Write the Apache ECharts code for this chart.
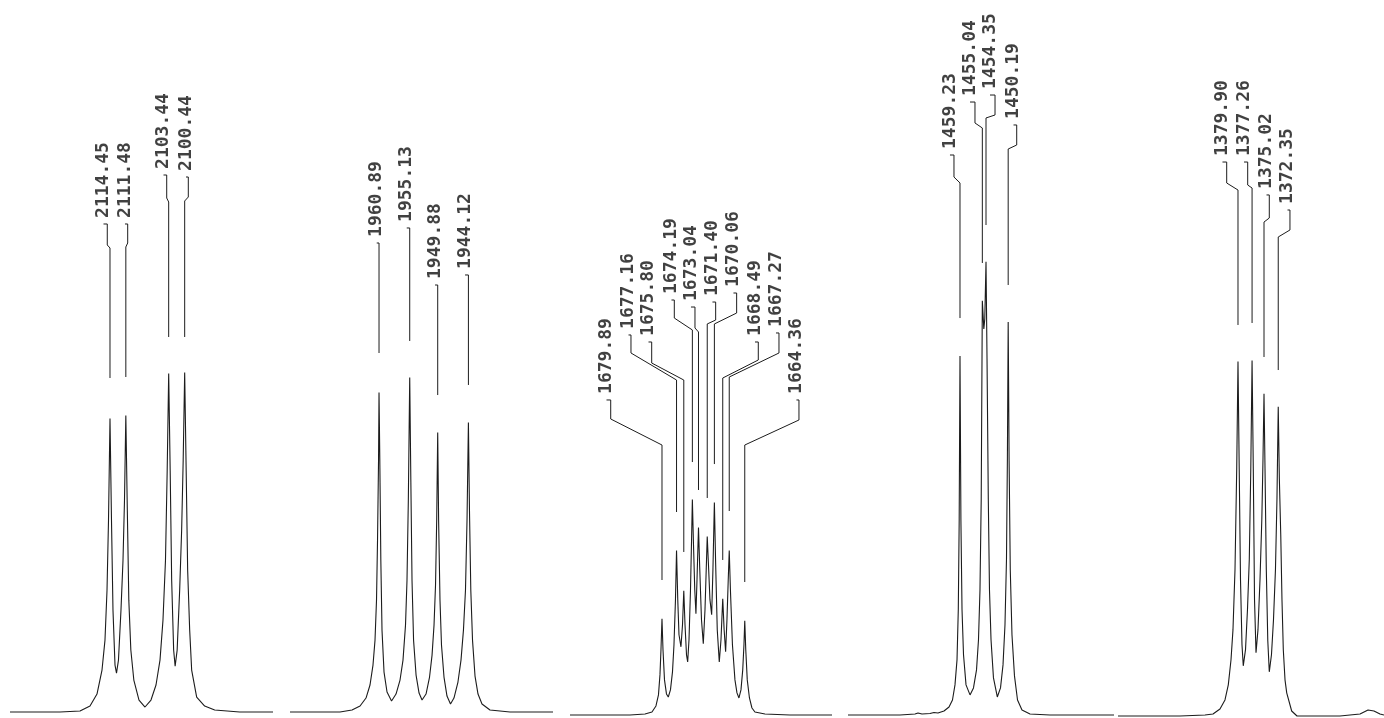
<!DOCTYPE html>
<html>
<head>
<meta charset="utf-8">
<script src="https://cdn.jsdelivr.net/npm/echarts@6/dist/echarts.min.js"></script>
<style>
html,body{margin:0;padding:0;background:#fff;}
#chart{width:1384px;height:718px;}
</style>
</head>
<body>
<div id="chart"></div>
<script>
// ---- Data (frequency in Hz, intensity in arbitrary units 0-100) ----
const seg1Range = [2083.87, 2133.21];
const seg2Range = [1928.25, 1977.59];
const seg3Range = [1647.99, 1697.15];
const seg4Range = [1430.34, 1480.24];
const seg5Range = [1352.51, 1402.41];

const seg1Peaks = [2114.45, 2111.48, 2103.44, 2100.44];
const seg2Peaks = [1960.89, 1955.13, 1949.88, 1944.12];
const seg3Peaks = [1679.89, 1677.16, 1675.80, 1674.19, 1673.04, 1671.40, 1670.06, 1668.49, 1667.27, 1664.36];
const seg4Peaks = [1459.23, 1455.04, 1454.35, 1450.19];
const seg5Peaks = [1379.90, 1377.26, 1375.02, 1372.35];

const seg1Trace = [[2133.21,0],[2123.83,0],[2120.08,0.14],[2118.20,0.84],[2116.89,2.52],[2115.95,5.89],[2115.39,10.10],[2115.01,17.11],[2114.73,26.93],[2114.45,41.23],[2114.17,26.93],[2113.89,14.31],[2113.51,6.59],[2113.23,5.47],[2112.86,7.29],[2112.39,14.31],[2112.01,21.32],[2111.73,29.73],[2111.48,41.65],[2111.20,28.33],[2110.92,15.71],[2110.54,8.70],[2109.98,4.49],[2109.01,1.68],[2107.88,0.70],[2106.76,1.68],[2105.82,3.79],[2105.07,7.29],[2104.51,12.90],[2104.04,21.32],[2103.72,33.94],[2103.44,47.55],[2103.16,33.94],[2102.88,18.51],[2102.51,8.70],[2102.23,6.45],[2101.85,8.70],[2101.38,17.11],[2101.01,25.53],[2100.72,35.34],[2100.44,47.69],[2100.16,33.94],[2099.88,19.92],[2099.50,11.50],[2099.13,5.89],[2098.19,2.10],[2096.69,0.84],[2094.81,0.28],[2090.12,0],[2083.87,0]];

const seg2Trace = [[1977.59,0],[1968.21,0],[1965.96,0.28],[1964.45,0.84],[1963.33,1.96],[1962.58,3.79],[1962.02,6.59],[1961.64,10.10],[1961.36,15.71],[1961.17,24.12],[1960.98,35.34],[1960.89,44.88],[1960.74,35.34],[1960.55,21.32],[1960.33,11.50],[1959.95,5.61],[1959.39,2.81],[1958.54,1.54],[1957.70,2.52],[1956.95,4.49],[1956.39,7.29],[1955.92,12.20],[1955.64,18.51],[1955.39,29.73],[1955.13,46.98],[1954.92,32.54],[1954.70,18.51],[1954.41,10.10],[1953.94,5.19],[1953.38,2.66],[1952.82,1.68],[1952.07,2.52],[1951.41,4.91],[1950.94,7.99],[1950.57,12.20],[1950.29,17.81],[1950.07,26.93],[1949.88,39.27],[1949.71,26.93],[1949.45,15.71],[1949.17,9.40],[1948.70,4.91],[1948.14,2.24],[1947.48,1.12],[1946.83,1.96],[1946.08,4.21],[1945.51,7.29],[1945.05,11.50],[1944.67,17.11],[1944.38,26.93],[1944.12,40.67],[1943.92,28.33],[1943.67,17.11],[1943.35,10.10],[1942.88,5.05],[1942.32,2.52],[1941.57,1.12],[1940.07,0.28],[1936.32,0],[1928.25,0]];

const seg3Trace = [[1697.15,0],[1685.89,0],[1683.08,0.14],[1681.77,0.42],[1681.02,1.26],[1680.55,2.81],[1680.27,5.61],[1680.08,9.12],[1679.89,13.46],[1679.70,9.12],[1679.42,4.91],[1679.05,2.95],[1678.71,2.52],[1678.30,3.51],[1677.92,6.03],[1677.64,9.82],[1677.36,16.13],[1677.16,23.00],[1676.93,16.13],[1676.70,11.22],[1676.33,9.54],[1676.04,12.62],[1675.80,17.39],[1675.57,12.62],[1675.29,8.42],[1675.07,7.43],[1674.82,10.52],[1674.54,17.53],[1674.34,24.54],[1674.19,30.15],[1673.98,23.84],[1673.74,17.53],[1673.52,14.17],[1673.32,18.93],[1673.04,26.23],[1672.80,20.34],[1672.48,13.32],[1672.14,9.96],[1671.82,14.73],[1671.59,20.34],[1671.40,24.96],[1671.17,21.04],[1670.89,16.13],[1670.57,14.03],[1670.33,20.34],[1670.06,29.73],[1669.84,21.74],[1669.52,11.92],[1669.14,7.43],[1668.82,10.52],[1668.49,16.27],[1668.23,11.92],[1667.95,8.84],[1667.70,13.32],[1667.46,18.93],[1667.27,23.00],[1667.05,17.53],[1666.67,9.82],[1666.20,4.91],[1665.82,3.09],[1665.45,2.38],[1665.07,3.51],[1664.74,6.31],[1664.51,9.82],[1664.36,13.18],[1664.17,9.12],[1663.89,4.91],[1663.48,2.38],[1663.01,0.98],[1662.45,0.42],[1660.57,0.14],[1655.88,0],[1647.99,0]];

const seg4Trace = [[1480.24,0],[1470.49,0],[1467.67,0.14],[1467.11,0.28],[1466.36,0.14],[1464.86,0.21],[1464.11,0.35],[1463.36,0.28],[1462.23,0.56],[1461.29,1.12],[1460.64,2.10],[1460.17,4.21],[1459.79,7.71],[1459.55,14.73],[1459.38,27.35],[1459.23,50.21],[1459.06,27.35],[1458.85,14.73],[1458.57,8.42],[1458.10,4.21],[1457.35,2.81],[1456.70,3.79],[1456.13,6.31],[1455.76,10.52],[1455.48,17.53],[1455.25,30.15],[1455.04,57.92],[1454.76,54.00],[1454.58,55.40],[1454.35,63.39],[1454.16,49.79],[1453.92,30.15],[1453.70,17.53],[1453.41,10.52],[1452.95,5.19],[1452.23,2.52],[1451.63,3.79],[1451.16,7.01],[1450.79,12.62],[1450.51,21.74],[1450.34,35.76],[1450.19,54.98],[1450.02,35.76],[1449.80,20.34],[1449.48,11.22],[1449.01,5.47],[1448.44,2.10],[1447.60,0.70],[1446.10,0.14],[1442.35,0],[1430.34,0]];

const seg5Trace = [[1402.41,0],[1390.78,0],[1386.09,0.14],[1384.59,0.28],[1383.28,0.98],[1382.34,2.24],[1381.72,4.35],[1381.21,7.85],[1380.84,12.06],[1380.46,20.48],[1380.14,34.50],[1379.90,49.51],[1379.67,34.50],[1379.43,19.07],[1379.15,9.96],[1378.91,7.01],[1378.49,9.26],[1378.12,14.87],[1377.78,21.88],[1377.50,34.50],[1377.26,49.65],[1377.03,34.50],[1376.80,16.27],[1376.52,8.84],[1376.15,12.06],[1375.77,19.07],[1375.43,27.49],[1375.21,35.90],[1375.02,45.02],[1374.83,34.50],[1374.59,20.48],[1374.31,10.52],[1374.03,6.17],[1373.62,8.56],[1373.24,13.46],[1372.87,20.48],[1372.59,30.29],[1372.35,43.20],[1372.14,33.10],[1371.88,25.39],[1371.65,16.27],[1371.40,9.26],[1371.08,5.05],[1370.76,3.23],[1369.83,0.70],[1368.83,0],[1360.77,0],[1357.01,0.28],[1355.51,0.84],[1354.39,0.70],[1353.26,0.28],[1352.51,0.14]];

// label leaders: [textHz, lineTopHz, topI, bendStartI, bendEndI, endI]
const seg1Leaders = [[2115.67,2114.96,68.54,65.59,65.17,46.91],[2111.64,2111.13,68.54,65.87,65.31,47.05],[2104.41,2103.81,75.42,72.19,71.63,52.67],[2100.19,2099.76,75.14,72.33,71.77,52.67]];
const seg2Leaders = [[1961.32,1960.89,65.87,65.87,65.87,50.42],[1955.69,1955.13,67.98,67.98,67.98,52.11],[1950.38,1949.88,59.97,59.97,59.97,44.52],[1944.75,1944.12,61.38,61.38,61.38,45.93]];
const seg3Leaders = [[1690.30,1689.51,44.06,41.40,37.76,18.88],[1686.17,1685.71,53.15,50.63,46.85,28.39],[1682.42,1681.82,52.17,49.23,46.85,22.80],[1678.11,1677.58,58.04,55.52,53.85,35.38],[1674.45,1673.70,57.06,54.13,53.57,31.47],[1670.42,1669.82,57.76,55.24,54.69,30.35],[1666.48,1665.88,59.02,56.22,54.69,35.10],[1662.44,1661.82,52.17,49.65,47.13,21.68],[1658.50,1657.94,53.43,50.63,47.27,28.53],[1654.66,1654.19,44.06,41.26,37.76,18.60]];
const seg4Leaders = [[1461.11,1460.36,78.32,75.24,74.41,55.52],[1457.35,1456.42,85.73,82.80,82.10,63.22],[1453.60,1452.66,86.71,83.92,83.50,68.53],[1449.19,1448.59,82.52,79.72,79.16,60.14]];
const seg5Leaders = [[1382.81,1382.02,77.37,74.44,73.46,54.61],[1378.77,1378.08,77.37,74.16,73.74,54.89],[1374.55,1374.03,72.77,69.55,68.99,50.14],[1370.61,1370.15,70.67,67.88,66.90,48.32]];

// ---- Build chart ----
const segs = [
  {range: seg1Range, trace: seg1Trace, peaks: seg1Peaks, leaders: seg1Leaders, left: 10,   width: 263, bottom: 6},
  {range: seg2Range, trace: seg2Trace, peaks: seg2Peaks, leaders: seg2Leaders, left: 290,  width: 263, bottom: 6},
  {range: seg3Range, trace: seg3Trace, peaks: seg3Peaks, leaders: seg3Leaders, left: 570,  width: 262, bottom: 3},
  {range: seg4Range, trace: seg4Trace, peaks: seg4Peaks, leaders: seg4Leaders, left: 848,  width: 266, bottom: 3},
  {range: seg5Range, trace: seg5Trace, peaks: seg5Peaks, leaders: seg5Leaders, left: 1118, width: 266, bottom: 2}
];

const grid = [], xAxis = [], yAxis = [], series = [];
const INK = '#1c1c1c';
segs.forEach((s, i) => {
  grid.push({left: s.left, width: s.width, top: 0, bottom: s.bottom, containLabel: false});
  xAxis.push({type: 'value', gridIndex: i, min: s.range[0], max: s.range[1], inverse: true, show: false});
  yAxis.push({type: 'value', gridIndex: i, min: 0, max: 100, show: false});
  series.push({
    type: 'line', xAxisIndex: i, yAxisIndex: i, data: s.trace,
    showSymbol: false, symbol: 'none', smooth: false, clip: false,
    lineStyle: {color: INK, width: 1.1}, silent: true
  });
  s.leaders.forEach((L, j) => {
    const pk = s.peaks[j];
    series.push({
      type: 'line', xAxisIndex: i, yAxisIndex: i, showSymbol: false, symbol: 'none', clip: false, silent: true,
      lineStyle: {color: INK, width: 1},
      data: [[L[0], L[2]], [L[1], L[2]], [L[1], L[3]], [pk, L[4]], [pk, L[5]]]
    });
  });
  series.push({
    type: 'scatter', xAxisIndex: i, yAxisIndex: i, symbolSize: 0.1, silent: true,
    itemStyle: {color: 'rgba(0,0,0,0)'},
    data: s.leaders.map((L, j) => ({value: [L[0], L[2]], name: s.peaks[j].toFixed(2)})),
    label: {
      show: true, position: 'top', distance: 6, rotate: 90, align: 'left', verticalAlign: 'middle',
      formatter: p => p.name,
      fontFamily: 'DejaVu Sans Mono', fontSize: 18, fontWeight: 'bold', color: '#111'
    }
  });
});

const chart = echarts.init(document.getElementById('chart'), null, {renderer: 'canvas'});
chart.setOption({
  backgroundColor: '#ffffff',
  animation: false,
  grid, xAxis, yAxis, series
});
</script>
</body>
</html>
